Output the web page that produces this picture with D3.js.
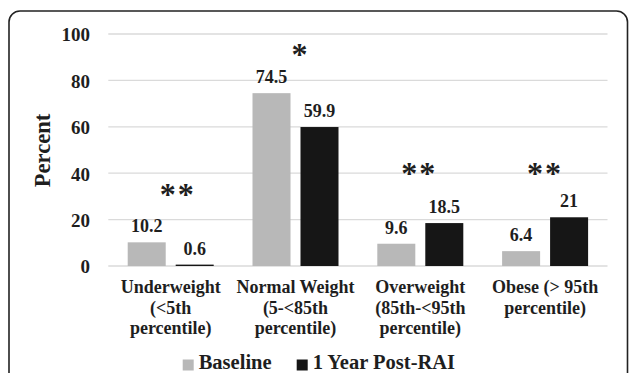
<!DOCTYPE html>
<html><head><meta charset="utf-8">
<script src="https://cdn.jsdelivr.net/npm/d3@7"></script>
<style>html,body{margin:0;padding:0;background:#fff;}svg{display:block;} svg text{font-family:"Liberation Serif","Times New Roman",Times,serif;font-weight:bold;}</style>
</head><body>
<svg id="c" width="629" height="373"></svg>
<script>
const categories = ["Underweight", "Normal Weight", "Overweight", "Obese"];
const categoryLines = [
  ["Underweight", "(<5th", "percentile)"],
  ["Normal Weight", "(5-<85th", "percentile)"],
  ["Overweight", "(85th-<95th", "percentile)"],
  ["Obese (> 95th", "percentile)"]
];
const seriesNames = ["Baseline", "1 Year Post-RAI"];
const baseline = [10.2, 74.5, 9.6, 6.4];
const postRAI = [0.6, 59.9, 18.5, 21];
const yTicks = [0, 20, 40, 60, 80, 100];
const sigMarks = ["**", "*", "**", "**"];
const sigLevel = [35, 95, 44, 44];
const colors = ["#b8b8b8", "#161616"];

const svg = d3.select("#c");
const txt = "#1e1e1e";
const sigNudge = [7, 5, -1, 0];

// frame
svg.append("rect").attr("x", 9).attr("y", 11).attr("width", 618.5).attr("height", 380)
  .attr("rx", 11).attr("fill", "none").attr("stroke", "#222").attr("stroke-width", 1.6);

const y = d3.scaleLinear().domain([0, 100]).range([266, 34]);
const x0 = d3.scaleBand().domain(categories).range([108.3, 607.5]).padding(0);
const x1 = d3.scaleBand().domain(seriesNames).range([19.4, 105.4]).paddingInner(0.208).paddingOuter(0);

// gridlines
svg.append("g").selectAll("line").data(yTicks).join("line")
  .attr("x1", 108.3).attr("x2", 607.5)
  .attr("y1", d => y(d)).attr("y2", d => y(d))
  .attr("stroke", "#dadada").attr("stroke-width", 1.3);

// y axis labels
const yAxis = d3.axisLeft(y).tickValues(yTicks).tickSize(0).tickPadding(0).tickFormat(d3.format("d"));
const ga = svg.append("g").attr("transform", "translate(90,0)").call(yAxis);
ga.select(".domain").remove();
ga.attr("font-family", null).attr("font-size", null);
ga.selectAll("text").style("font-size", "19px").attr("fill", txt).attr("dy", "0.36em");

svg.append("text").attr("transform", "translate(50,150.5) rotate(-90)")
  .attr("text-anchor", "middle").style("font-size", "22.5px").attr("fill", txt).text("Percent");

// bars
const series = [baseline, postRAI];
const groups = svg.append("g").selectAll("g").data(categories).join("g")
  .attr("transform", d => `translate(${x0(d)},0)`);
groups.selectAll("rect").data((d, i) => seriesNames.map((s, j) => ({s, v: series[j][i], j})))
  .join("rect")
  .attr("x", d => x1(d.s)).attr("width", x1.bandwidth())
  .attr("y", d => y(d.v)).attr("height", d => y(0) - y(d.v))
  .attr("fill", d => colors[d.j]);
groups.selectAll("text.val").data((d, i) => seriesNames.map((s, j) => ({s, v: series[j][i]})))
  .join("text").attr("class", "val")
  .attr("x", d => x1(d.s) + x1.bandwidth() / 2).attr("y", d => y(d.v) - 10)
  .attr("text-anchor", "middle").style("font-size", "18px").attr("fill", txt).text(d => d.v);

// significance marks
svg.append("g").selectAll("text").data(categories).join("text")
  .attr("x", (d, i) => x0(d) + x0.bandwidth() / 2 + sigNudge[i])
  .attr("y", (d, i) => y(sigLevel[i]))
  .attr("text-anchor", "middle").style("font-size", "32px").attr("fill", txt).attr("dy", "0.62em")
  .attr("letter-spacing", 2)
  .text((d, i) => sigMarks[i]);

// category labels
const cl = svg.append("g").selectAll("text").data(categories).join("text")
  .attr("text-anchor", "middle").style("font-size", "18px").attr("fill", txt);
cl.selectAll("tspan").data((d, i) => categoryLines[i]).join("tspan")
  .attr("x", function() { const c = d3.select(this.parentNode).datum(); return x0(c) + x0.bandwidth() / 2; })
  .attr("y", (d, k) => 293 + k * 20.5).text(d => d);

// legend
const legX = [182.7, 296.7];
const lg = svg.append("g").selectAll("g").data(seriesNames).join("g")
  .attr("transform", (d, i) => `translate(${legX[i]},0)`);
lg.append("rect").attr("x", 0).attr("y", 359.5).attr("width", 11).attr("height", 11)
  .attr("fill", (d, i) => colors[i]);
lg.append("text").attr("x", 16).attr("y", 369).style("font-size", "20.5px").attr("fill", txt).text(d => d);
</script>
</body></html>
